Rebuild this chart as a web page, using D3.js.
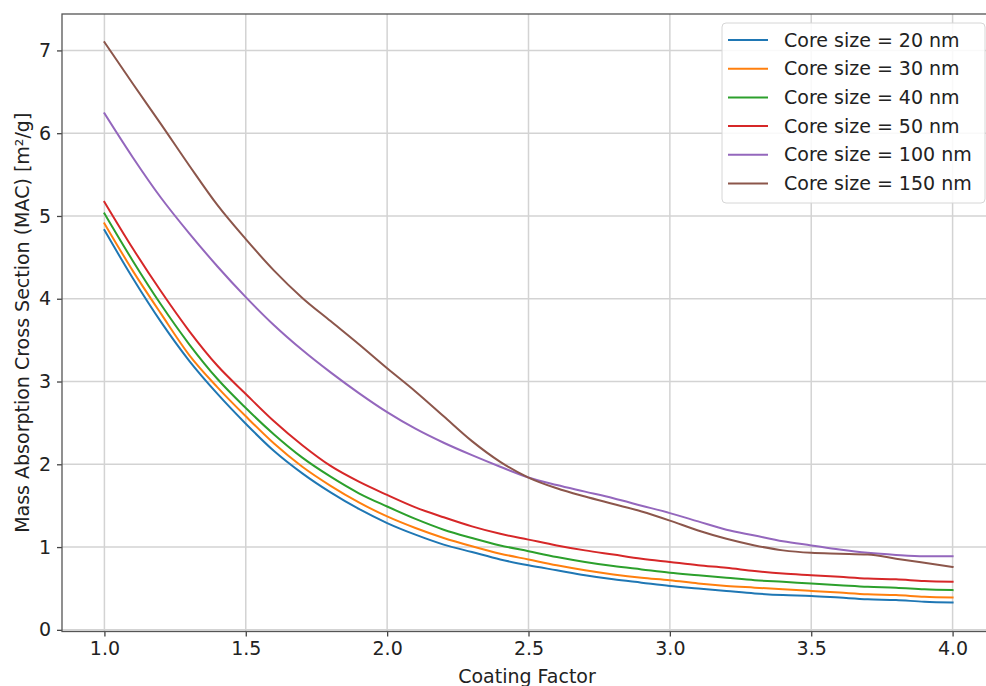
<!DOCTYPE html>
<html>
<head>
<meta charset="utf-8">
<script src="https://cdn.jsdelivr.net/npm/d3@7"></script>
<style>
  html, body { margin: 0; padding: 0; background: #fff; }
  svg { display: block; font-family: "DejaVu Sans", sans-serif; }
</style>
</head>
<body>
<svg id="chart" width="986" height="686"></svg>
<script>
// Coating factor samples (x axis)
const coatingFactor = [1.0, 1.1, 1.2, 1.3, 1.4, 1.5, 1.6, 1.7, 1.8, 1.9, 2.0,
  2.1, 2.2, 2.3, 2.4, 2.5, 2.6, 2.7, 2.8, 2.9, 3.0,
  3.1, 3.2, 3.3, 3.4, 3.5, 3.6, 3.7, 3.8, 3.9, 4.0];

// MAC [m²/g] per core size
const mac20 = [4.83, 4.25, 3.72, 3.25, 2.85, 2.49, 2.16, 1.89, 1.66, 1.46, 1.29,
  1.15, 1.03, 0.94, 0.85, 0.78, 0.72, 0.66, 0.61, 0.57, 0.53,
  0.50, 0.47, 0.44, 0.42, 0.41, 0.39, 0.37, 0.36, 0.34, 0.33];
const mac30 = [4.91, 4.34, 3.82, 3.32, 2.93, 2.58, 2.25, 1.97, 1.74, 1.54, 1.37,
  1.23, 1.11, 1.01, 0.92, 0.85, 0.78, 0.72, 0.67, 0.63, 0.60,
  0.56, 0.53, 0.51, 0.49, 0.47, 0.45, 0.43, 0.42, 0.40, 0.39];
const mac40 = [5.03, 4.46, 3.93, 3.45, 3.03, 2.68, 2.36, 2.08, 1.85, 1.65, 1.49,
  1.34, 1.21, 1.11, 1.02, 0.95, 0.88, 0.82, 0.77, 0.73, 0.69,
  0.66, 0.63, 0.60, 0.58, 0.56, 0.54, 0.52, 0.51, 0.49, 0.48];
const mac50 = [5.17, 4.61, 4.09, 3.61, 3.19, 2.85, 2.52, 2.23, 1.98, 1.79, 1.63,
  1.48, 1.36, 1.25, 1.16, 1.09, 1.02, 0.96, 0.91, 0.86, 0.82,
  0.78, 0.75, 0.71, 0.68, 0.66, 0.64, 0.62, 0.61, 0.59, 0.58];
const mac100 = [6.24, 5.71, 5.22, 4.79, 4.39, 4.02, 3.68, 3.38, 3.11, 2.86, 2.63,
  2.43, 2.26, 2.11, 1.97, 1.84, 1.75, 1.67, 1.59, 1.50, 1.41,
  1.31, 1.21, 1.14, 1.07, 1.02, 0.97, 0.93, 0.905, 0.89, 0.89];
const mac150 = [7.10, 6.60, 6.11, 5.61, 5.13, 4.72, 4.34, 4.01, 3.73, 3.45, 3.16,
  2.88, 2.58, 2.28, 2.03, 1.84, 1.71, 1.61, 1.52, 1.43, 1.32,
  1.20, 1.10, 1.02, 0.96, 0.93, 0.92, 0.91, 0.86, 0.81, 0.76];

const seriesLabels = ["Core size = 20 nm", "Core size = 30 nm", "Core size = 40 nm",
  "Core size = 50 nm", "Core size = 100 nm", "Core size = 150 nm"];
const seriesValues = [mac20, mac30, mac40, mac50, mac100, mac150];
const seriesColors = ["#1f77b4", "#ff7f0e", "#2ca02c", "#d62728", "#9467bd", "#8c564b"];

const xTicks = [1.0, 1.5, 2.0, 2.5, 3.0, 3.5, 4.0];
const yTicks = [0, 1, 2, 3, 4, 5, 6, 7];

const xLabel = "Coating Factor";
const yLabel = "Mass Absorption Cross Section (MAC) [m²/g]";

const fontSize = 19;

// Plot frame
const plot = { left: 62, right: 995, top: 14, bottom: 631.5 };

const svg = d3.select("#chart");
const x = d3.scaleLinear().domain([0.85, 4.15]).range([plot.left, plot.right]);
const y = d3.scaleLinear().domain([-0.02, 7.44]).range([plot.bottom, plot.top]);

svg.append("defs").append("clipPath").attr("id", "plotClip")
  .append("rect")
  .attr("x", plot.left).attr("y", plot.top)
  .attr("width", plot.right - plot.left).attr("height", plot.bottom - plot.top);

// Grid
const grid = svg.append("g");
grid.selectAll(".gx").data(xTicks).join("line")
  .attr("x1", d => x(d)).attr("x2", d => x(d))
  .attr("y1", plot.top).attr("y2", plot.bottom)
  .attr("stroke", "#d3d3d3").attr("stroke-width", 1.5);
grid.selectAll(".gy").data(yTicks).join("line")
  .attr("x1", plot.left).attr("x2", plot.right)
  .attr("y1", d => y(d)).attr("y2", d => y(d))
  .attr("stroke", "#d3d3d3").attr("stroke-width", 1.5);

// Lines
const line = d3.line()
  .x((d, i) => x(coatingFactor[i]))
  .y(d => y(d))
  .curve(d3.curveMonotoneX);

svg.append("g").attr("clip-path", "url(#plotClip)")
  .selectAll("path").data(seriesValues).join("path")
  .attr("d", d => line(d))
  .attr("fill", "none")
  .attr("stroke", (d, i) => seriesColors[i])
  .attr("stroke-width", 2)
  .attr("stroke-linejoin", "round")
  .attr("stroke-linecap", "square");

// Axes
const xAxis = d3.axisBottom(x).tickValues(xTicks).tickFormat(d3.format(".1f"))
  .tickSize(5).tickPadding(5);
const yAxis = d3.axisLeft(y).tickValues(yTicks).tickFormat(d3.format("d"))
  .tickSize(5).tickPadding(6);

const gx = svg.append("g").attr("transform", `translate(0,${plot.bottom})`).call(xAxis);
const gy = svg.append("g").attr("transform", `translate(${plot.left},0)`).call(yAxis);
[gx, gy].forEach(g => {
  g.select(".domain").remove();
  g.selectAll(".tick line").attr("stroke", "#444").attr("stroke-width", 1.3);
  g.selectAll(".tick text").attr("fill", "#222").attr("font-size", fontSize)
    .attr("font-family", "DejaVu Sans, sans-serif");
});

// Spines
svg.append("rect")
  .attr("x", plot.left).attr("y", plot.top)
  .attr("width", plot.right - plot.left).attr("height", plot.bottom - plot.top)
  .attr("fill", "none").attr("stroke", "#555").attr("stroke-width", 1.3);

// Axis labels
svg.append("text")
  .attr("x", 527).attr("y", 683)
  .attr("text-anchor", "middle").attr("font-size", fontSize).attr("fill", "#222")
  .text(xLabel);
svg.append("text")
  .attr("transform", `translate(29,${(plot.top + plot.bottom) / 2}) rotate(-90)`)
  .attr("text-anchor", "middle").attr("font-size", fontSize).attr("fill", "#222")
  .text(yLabel);

// Legend
const legend = svg.append("g").attr("transform", "translate(722,23)");
legend.append("rect")
  .attr("width", 263).attr("height", 180).attr("rx", 4)
  .attr("fill", "#fff").attr("fill-opacity", 0.85)
  .attr("stroke", "#d6d6d6").attr("stroke-width", 1);
const items = legend.selectAll(".item").data(seriesLabels).join("g")
  .attr("transform", (d, i) => `translate(0,${17 + i * 28.7})`);
items.append("line")
  .attr("x1", 6).attr("x2", 46).attr("y1", 0).attr("y2", 0)
  .attr("stroke", (d, i) => seriesColors[i]).attr("stroke-width", 2);
items.append("text")
  .attr("x", 62).attr("y", 0).attr("dy", "0.35em")
  .attr("font-size", fontSize).attr("fill", "#222")
  .text(d => d);
</script>
</body>
</html>
